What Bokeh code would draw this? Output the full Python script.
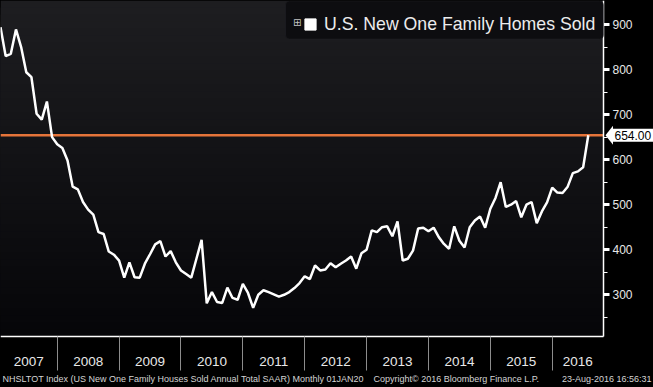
import math
from bokeh.plotting import figure
from bokeh.models import (Range1d, LinearAxis, FixedTicker, CustomJSTickFormatter,
                          Label, BoxAnnotation, Legend, LegendItem, PolyAnnotation)
from bokeh.embed import file_html
from bokeh.resources import INLINE

# ---------------- data (monthly, thousands, SAAR) ----------------
years = [2007, 2008, 2009, 2010, 2011, 2012, 2013, 2014, 2015, 2016]
sales_2007 = [894, 830, 835, 889, 850, 794, 783, 702, 689, 729, 650, 634]
sales_2008 = [626, 598, 540, 534, 506, 489, 478, 439, 435, 396, 389, 376]
sales_2009 = [338, 372, 339, 338, 369, 390, 412, 419, 385, 397, 372, 354]
sales_2010 = [346, 338, 380, 422, 281, 306, 284, 282, 316, 293, 289, 324]
sales_2011 = [304, 271, 300, 310, 306, 301, 296, 300, 306, 315, 326, 341]
sales_2012 = [335, 365, 354, 356, 370, 361, 369, 376, 385, 358, 392, 400]
sales_2013 = [443, 439, 450, 452, 430, 463, 376, 380, 398, 447, 449, 441]
sales_2014 = [449, 428, 413, 402, 452, 420, 405, 450, 465, 474, 449, 491]
sales_2015 = [515, 550, 495, 500, 508, 472, 500, 506, 459, 485, 505, 538]
sales_2016 = [527, 526, 540, 570, 574, 583, 654]
last_value = 654.00
y_ticks = [300, 400, 500, 600, 700, 800, 900]
y_minor_ticks = [250, 350, 450, 550, 650, 750, 850]
series_name = "U.S. New One Family Homes Sold"
footer_left = "NHSLTOT Index (US New One Family Houses Sold Annual Total SAAR) Monthly 01JAN20"
footer_mid = "Copyright\u00a9 2016 Bloomberg Finance L.P."
footer_right = "23-Aug-2016 16:56:31"

sales = (sales_2007 + sales_2008 + sales_2009 + sales_2010 + sales_2011 +
         sales_2012 + sales_2013 + sales_2014 + sales_2015 + sales_2016)
# monthly points placed at month end (decimal years)
x = [years[0] + (i + 1) / 12 for i in range(len(sales))]

# ---------------- layout ----------------
W, H = 653, 387                 # canvas == frame
PLOT_W, PLOT_H = 603, 336       # chart area inside the canvas (top-left anchored)
x_start, x_plot_end = x[0], 2016.829
y_plot_start, y_end = 207.4, 953.3
ppx = PLOT_W / (x_plot_end - x_start)     # pixels per year
ppy = PLOT_H / (y_end - y_plot_start)     # pixels per unit
x_canvas_end = x_start + W / ppx
y_canvas_start = y_end - H / ppy


def X(px):
    return x_start + px / ppx


def Y(py):
    return y_end - py / ppy


FONT = "Liberation Sans"

p = figure(width=W, height=H, x_range=Range1d(x_start, x_canvas_end),
           y_range=Range1d(y_canvas_start, y_end),
           output_backend="svg", toolbar_location=None, tools="",
           x_axis_location=None, y_axis_location=None, min_border=0,
           border_fill_color="black", background_fill_color="black",
           outline_line_color=None)
p.grid.visible = False

# vertical gradient background of the chart area (nested bands, no seams)
n_bands = 48
top_rgb = (29, 29, 32)
bot_rgb = (6, 6, 9)
for k in range(n_bands):
    t = k / (n_bands - 1)
    c = tuple(int(round(a + (b - a) * t)) for a, b in zip(top_rgb, bot_rgb))
    y_hi = y_end - (y_end - y_plot_start) * k / n_bands
    p.add_layout(BoxAnnotation(left=x_start, right=x_plot_end, bottom=y_plot_start, top=y_hi,
                               fill_color="#%02x%02x%02x" % c, fill_alpha=1,
                               line_color=None, level="underlay"))

# last-value reference line across the chart area
p.segment(x0=[x_start], x1=[x_plot_end], y0=[last_value], y1=[last_value],
          line_color="#e5743a", line_width=2.5)

# main series
p.line(x, sales, line_color="white", line_width=2.5)

# x axis: year separators (minor ticks) and centered year labels
boundaries = years[1:]
label_pos = [(max(yr, x_start) + min(yr + 1, x_plot_end)) / 2 for yr in years]
xaxis = LinearAxis(ticker=FixedTicker(ticks=label_pos, minor_ticks=boundaries),
                   formatter=CustomJSTickFormatter(code="return Math.floor(tick).toString()"),
                   fixed_location=y_plot_start, bounds=(x_start, x_plot_end),
                   axis_line_color="white", axis_line_width=1.5,
                   major_tick_line_color=None, major_tick_out=0, major_tick_in=0,
                   minor_tick_out=34, minor_tick_in=0, minor_tick_line_color="#8c8c8c",
                   minor_tick_line_width=1,
                   major_label_standoff=-14, major_label_text_color="#e8e8e8",
                   major_label_text_font=FONT, major_label_text_font_size="13.5px")
p.add_layout(xaxis, "below")

# right y axis
yaxis = LinearAxis(ticker=FixedTicker(ticks=y_ticks, minor_ticks=y_minor_ticks),
                   fixed_location=x_plot_end, bounds=(y_plot_start, y_end),
                   axis_line_color="white", axis_line_width=1.5,
                   major_tick_out=6, major_tick_in=0, major_tick_line_width=3,
                   major_tick_line_color="white",
                   minor_tick_out=4, minor_tick_in=0, minor_tick_line_color="white",
                   major_label_standoff=3, major_label_text_color="#e8e8e8",
                   major_label_text_font=FONT, major_label_text_font_size="12px")
p.add_layout(yaxis, "right")

# last value callout
p.add_layout(PolyAnnotation(xs=[x_plot_end + 2 / ppx, x_plot_end + 9.5 / ppx, x_plot_end + 9.5 / ppx],
                            ys=[last_value, last_value + 9.5 / ppy, last_value - 9.5 / ppy],
                            fill_color="white", fill_alpha=1, line_color=None))
p.add_layout(Label(x=x_plot_end, y=last_value, x_offset=9, text=f"{last_value:.2f}",
                   text_baseline="middle", text_align="left", text_color="black",
                   text_font=FONT, text_font_size="12px",
                   background_fill_color="white", background_fill_alpha=1, padding=2))

# legend box (drawn separately so the small icon can sit inside it)
p.add_layout(BoxAnnotation(left=X(285), right=X(603), top=Y(0.5), bottom=Y(38.5),
                           fill_color="#0d0d10", fill_alpha=1, line_color="#2c2c31",
                           line_width=1, border_radius=4, level="annotation"))
p.add_layout(Label(x=X(292.5), y=Y(22), text="\u229e",
                   text_baseline="middle", text_align="left", text_color="#c4c4c4",
                   text_font="DejaVu Sans", text_font_size="10px"))
proxy = p.scatter(x=[math.nan], y=[math.nan], marker="square", size=11,
                  fill_color="white", line_color="white")
legend = Legend(items=[LegendItem(label=series_name, renderers=[proxy])],
                location=(296, H - 38), margin=0, padding=5, spacing=0,
                glyph_width=28, glyph_height=28, label_standoff=-2,
                label_text_font=FONT, label_text_font_size="17.7px", label_text_color="#ececec",
                background_fill_alpha=0, border_line_color=None)
p.add_layout(legend, "center")

# footer
for txt, px, align in [(footer_left, 2, "left"), (footer_mid, 373, "left"), (footer_right, 651, "right")]:
    p.add_layout(Label(x=X(px), y=Y(378), text=txt, text_baseline="middle",
                       text_align=align, text_color="#d4d4d4", text_font=FONT,
                       text_font_size="9px"))

template = ('{% block preamble %}<style>html, body {margin:0 !important; padding:0 !important; '
            'background:#000 !important; overflow:hidden;}</style>{% endblock %}')
open("out.html", "w").write(file_html(p, INLINE, template=template))
